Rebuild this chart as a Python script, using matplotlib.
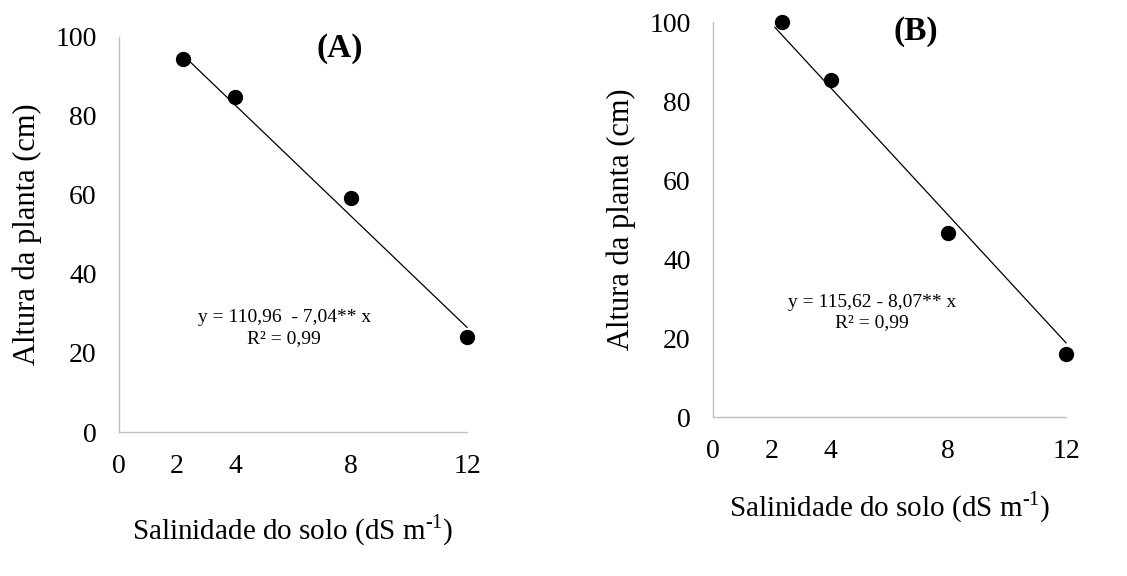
import numpy as np
import matplotlib.pyplot as plt

plt.rcParams['font.family'] = ['Liberation Serif', 'DejaVu Serif']
plt.rcParams['mathtext.fontset'] = 'custom'
plt.rcParams['mathtext.rm'] = 'Liberation Serif'

# dados
salinidade_a = [2.2, 4, 8, 12]
altura_a = [94.4, 84.7, 59.3, 24.0]
salinidade_b = [2.35, 4, 8, 12]
altura_b = [100.0, 85.3, 46.6, 16.0]

coef_a = (110.96, -7.04)
coef_b = (115.62, -8.07)

xticks = [0, 2, 4, 8, 12]
xticklabels = ['0', '2', '4', '8', '12']
yticks = [0, 20, 40, 60, 80, 100]

fig = plt.figure(figsize=(11.27, 5.76), dpi=100)
ax_a = fig.add_axes([0.1056, 0.25, 0.3088, 0.6858])
ax_b = fig.add_axes([0.6327, 0.276, 0.3132, 0.6858])

paineis = [
    (ax_a, salinidade_a, altura_a, coef_a, 2.2, '(A)', (7.6, 97.2),
     'y = 110,96  - 7,04** x\nR² = 0,99', (5.7, 26.3)),
    (ax_b, salinidade_b, altura_b, coef_b, 2.1, '(B)', (6.9, 97.5),
     'y = 115,62 - 8,07** x\nR² = 0,99', (5.4, 26.4)),
]

for ax, x, y, coef, x0, titulo, pos_t, eq, pos_eq in paineis:
    xl = np.array([x0, x[-1]])
    ax.plot(xl, coef[0] + coef[1] * xl, color='black', lw=0.9, clip_on=False)
    ax.plot(x, y, 'o', color='black', ms=10, clip_on=False, zorder=3)
    ax.set_xlim(0, 12)
    ax.set_ylim(0, 100)
    ax.set_xticks(xticks)
    ax.set_xticklabels(xticklabels)
    ax.set_yticks(yticks)
    ax.tick_params(axis='x', length=0, pad=16, labelsize=20)
    ax.tick_params(axis='y', length=0, pad=16, labelsize=20)
    for s in ['top', 'right']:
        ax.spines[s].set_visible(False)
    for s in ['left', 'bottom']:
        ax.spines[s].set_color('#c0c0c0')
        ax.spines[s].set_linewidth(1.0)
    ax.text(pos_t[0], pos_t[1], titulo, fontsize=24, fontweight='bold',
            ha='center', va='center')
    ax.text(pos_eq[0], pos_eq[1], eq, fontsize=14, ha='center', va='center',
            linespacing=1.25)
    ax.set_ylabel('Altura da planta (cm)', fontsize=22, labelpad=10)
    ax.set_xlabel('Salinidade do solo (dS m$^{\\text{-}1}$)', fontsize=21, labelpad=24)

ax_b.xaxis.labelpad = 18

fig.savefig('out.png', dpi=100)
